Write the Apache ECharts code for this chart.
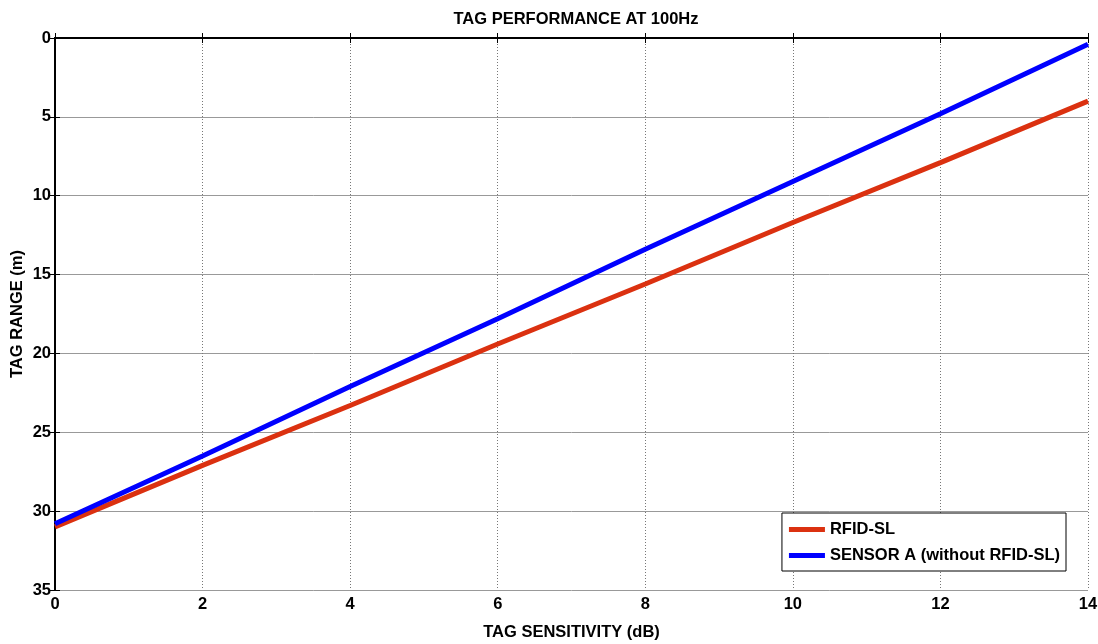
<!DOCTYPE html>
<html>
<head>
<meta charset="utf-8">
<script src="https://cdn.jsdelivr.net/npm/echarts@6/dist/echarts.min.js"></script>
<style>
  html, body { margin: 0; padding: 0; background: #fff; }
  #chart { width: 1098px; height: 644px; }
</style>
</head>
<body>
<div id="chart"></div>
<script>
// sensitivity (dB) on x, range (m) on y
const sensitivity = [0, 2, 4, 6, 8, 10, 12, 14];
const rfidSl = [31.0, 27.1, 23.3, 19.4, 15.6, 11.7, 7.9, 4.0];
const sensorA = [30.8, 26.5, 22.1, 17.8, 13.4, 9.1, 4.8, 0.4];
const seriesNames = ["RFID-SL", "SENSOR A (without RFID-SL)"];
const seriesColors = ["#db3110", "#0000ff"];

const font = "Liberation Sans, Arial, sans-serif";
const fs = 16.5;

const chart = echarts.init(document.getElementById("chart"));

const pairs = (ys) => sensitivity.map((x, i) => [x, ys[i]]);

const option = {
  backgroundColor: "#ffffff",
  animation: false,
  title: {
    text: "TAG PERFORMANCE AT 100Hz",
    left: 571,
    textAlign: "center",
    top: 6,
    textStyle: { fontFamily: font, fontSize: fs, fontWeight: "bold", color: "#000" },
  },
  grid: { left: 55, right: 10, top: 38, bottom: 54, containLabel: false, outerBoundsMode: "none" },
  legend: {
    right: 32,
    bottom: 73,
    orient: "vertical",
    itemWidth: 36,
    itemHeight: 5,
    itemGap: 9,
    padding: [8, 6, 7, 7],
    borderColor: "#000",
    borderWidth: 1,
    backgroundColor: "#fff",
    icon: "rect",
    textStyle: { fontFamily: font, fontSize: fs, fontWeight: "bold", color: "#000" },
    data: seriesNames,
  },
  xAxis: [
    {
      type: "value",
      min: 0,
      max: 14,
      interval: 2,
      name: "TAG SENSITIVITY (dB)",
      nameLocation: "middle",
      nameGap: 34,
      nameTextStyle: { fontFamily: font, fontSize: fs, fontWeight: "bold", color: "#000" },
      axisLine: { show: true, lineStyle: { color: "#000", width: 2 } },
      axisTick: { show: true, inside: true, length: 5, lineStyle: { color: "#000" } },
      axisLabel: { fontFamily: font, fontSize: fs, fontWeight: "bold", color: "#000", margin: 6 },
      splitLine: { show: true, lineStyle: { color: "#777", type: [1, 2], width: 1 } },
    },
    {
      type: "value",
      position: "top",
      min: 0,
      max: 14,
      interval: 2,
      axisLine: { show: true, lineStyle: { color: "#000", width: 2 } },
      axisTick: { show: true, inside: true, length: 5, lineStyle: { color: "#000" } },
      axisLabel: { show: false },
      splitLine: { show: false },
    },
  ],
  yAxis: [
    {
      type: "value",
      inverse: true,
      min: 0,
      max: 35,
      interval: 5,
      name: "TAG RANGE (m)",
      nameLocation: "middle",
      nameGap: 29,
      nameMoveOverlap: false,
      nameTextStyle: { fontFamily: font, fontSize: fs, fontWeight: "bold", color: "#000" },
      axisLine: { show: true, lineStyle: { color: "#000", width: 2 } },
      axisTick: { show: true, inside: true, length: 5, lineStyle: { color: "#000" } },
      axisLabel: { fontFamily: font, fontSize: fs, fontWeight: "bold", color: "#000", margin: 4 },
      splitLine: { show: true, lineStyle: { color: "#999", width: 1 } },
    },
    {
      type: "value",
      position: "right",
      inverse: true,
      min: 0,
      max: 35,
      interval: 5,
      axisLine: { show: true, lineStyle: { color: "#000", width: 2 } },
      axisTick: { show: true, inside: true, length: 5, lineStyle: { color: "#000" } },
      axisLabel: { show: false },
      splitLine: { show: false },
    },
  ],
  series: [
    {
      name: seriesNames[0],
      type: "line",
      data: pairs(rfidSl),
      showSymbol: false,
      symbol: "none",
      itemStyle: { color: seriesColors[0] },
      lineStyle: { color: seriesColors[0], width: 5 },
      z: 3,
    },
    {
      name: seriesNames[1],
      type: "line",
      data: pairs(sensorA),
      showSymbol: false,
      symbol: "none",
      itemStyle: { color: seriesColors[1] },
      lineStyle: { color: seriesColors[1], width: 5 },
      z: 4,
    },
  ],
};

chart.setOption(option);
</script>
</body>
</html>
